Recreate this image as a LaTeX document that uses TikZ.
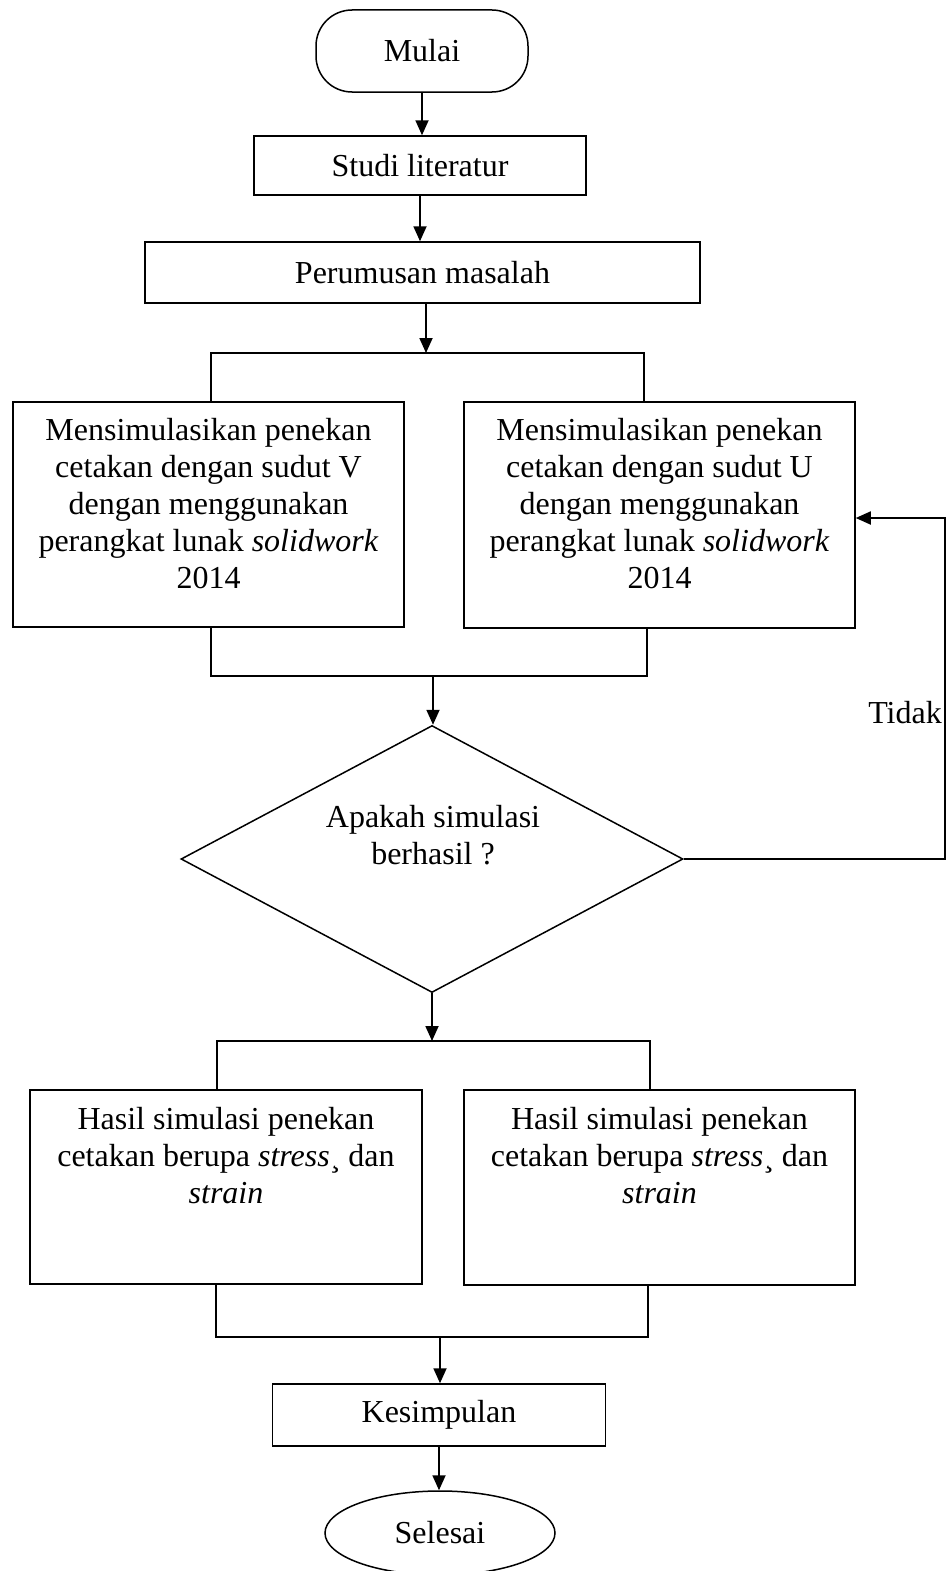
\documentclass[tikz,border=0pt]{standalone}
\usepackage{fontspec}
\setmainfont{Liberation Serif}
\usetikzlibrary{shapes.geometric,arrows.meta,calc}
\begin{document}
\begin{tikzpicture}[x=1pt,y=-1pt,
  every node/.style={font=\fontsize{32}{36.8}\selectfont},
  box/.style={draw, line width=1.5pt, rectangle, inner sep=0pt},
  txt/.style={align=center, inner sep=0pt},
  link/.style={line width=1.5pt},
  arr/.style={line width=1.8pt, -{Triangle[length=15pt,width=13pt]}},
]
\useasboundingbox (0,0) rectangle (951,1571);

% top part
\node[box, rounded corners=36pt, minimum width=212pt, minimum height=82pt] (mulai) at (422,51) {Mulai};
\node[box, minimum width=332pt, minimum height=59pt] (studi) at (420,165.5) {Studi literatur};
\node[box, minimum width=555pt, minimum height=61pt] (perum) at (422.5,272.5) {Perumusan masalah};

\draw[arr] (mulai.south) -- (mulai.south |- studi.north);
\draw[arr] (studi.south) -- (studi.south |- perum.north);

% first split
\coordinate (s1) at (426,353);
\coordinate (s1l) at (211,353);
\coordinate (s1r) at (644,353);
\node[box, minimum width=391pt, minimum height=225pt] (vbox) at (208.5,514.5) {};
\node[box, minimum width=391pt, minimum height=226pt] (ubox) at (659.5,515) {};
\node[txt, anchor=base] (vtext) at (208.5,588) {Mensimulasikan penekan\\cetakan dengan sudut V\\dengan menggunakan\\perangkat lunak \textit{solidwork}\\2014};
\node[txt, anchor=base] (utext) at (659.5,588) {Mensimulasikan penekan\\cetakan dengan sudut U\\dengan menggunakan\\perangkat lunak \textit{solidwork}\\2014};

\draw[arr] (perum.south -| s1) -- (s1);
\draw[link] (s1l |- vbox.north) -- (s1l) -- (s1r) -- (s1r |- ubox.north);

% first merge
\coordinate (m1) at (433,676);
\coordinate (m1l) at (211,676);
\coordinate (m1r) at (647,676);
\draw[link] (m1l |- vbox.south) -- (m1l) -- (m1r) -- (m1r |- ubox.south);

% decision
\node[draw, diamond, line width=1.5pt, minimum width=502pt, minimum height=267pt, inner sep=0pt] (dec) at (432,859) {};
\node[txt, anchor=base] (dectext) at (433,864) {Apakah simulasi\\berhasil ?};
\draw[arr] (m1) -- (m1 |- dec.north);

% loop back
\coordinate (lp1) at (945,859);
\coordinate (lp2) at (945,518);
\draw[arr] (dec.east) -- (lp1) -- (lp2) -- (ubox.east |- lp2);
\node[anchor=base east, inner sep=0pt] (tidak) at (942,723) {Tidak};

% second split
\coordinate (s2) at (432,1041);
\coordinate (s2l) at (217,1041);
\coordinate (s2r) at (650,1041);
\draw[arr] (dec.south) -- (s2);
\node[box, minimum width=392pt, minimum height=194pt] (hbox1) at (226,1187) {};
\node[box, minimum width=391pt, minimum height=195pt] (hbox2) at (659.5,1187.5) {};
\node[txt, anchor=base] (h1text) at (226,1203) {Hasil simulasi penekan\\cetakan berupa \textit{stress}¸ dan\\\textit{strain}};
\node[txt, anchor=base] (h2text) at (659.5,1203) {Hasil simulasi penekan\\cetakan berupa \textit{stress}¸ dan\\\textit{strain}};
\draw[link] (s2l |- hbox1.north) -- (s2l) -- (s2r) -- (s2r |- hbox2.north);

% second merge
\coordinate (m2) at (440,1337);
\coordinate (m2l) at (216,1337);
\coordinate (m2r) at (648,1337);
\draw[link] (m2l |- hbox1.south) -- (m2l) -- (m2r) -- (m2r |- hbox2.south);

% end
\node[box, minimum width=333pt, minimum height=62pt] (kesim) at (439,1415) {Kesimpulan};
\node[draw, ellipse, line width=1.5pt, minimum width=230pt, minimum height=84pt, inner sep=0pt] (selesai) at (440,1533) {Selesai};
\draw[arr] (m2) -- (m2 |- kesim.north);
\draw[arr] (kesim.south) -- (kesim.south |- selesai.north);
\end{tikzpicture}
\end{document}
